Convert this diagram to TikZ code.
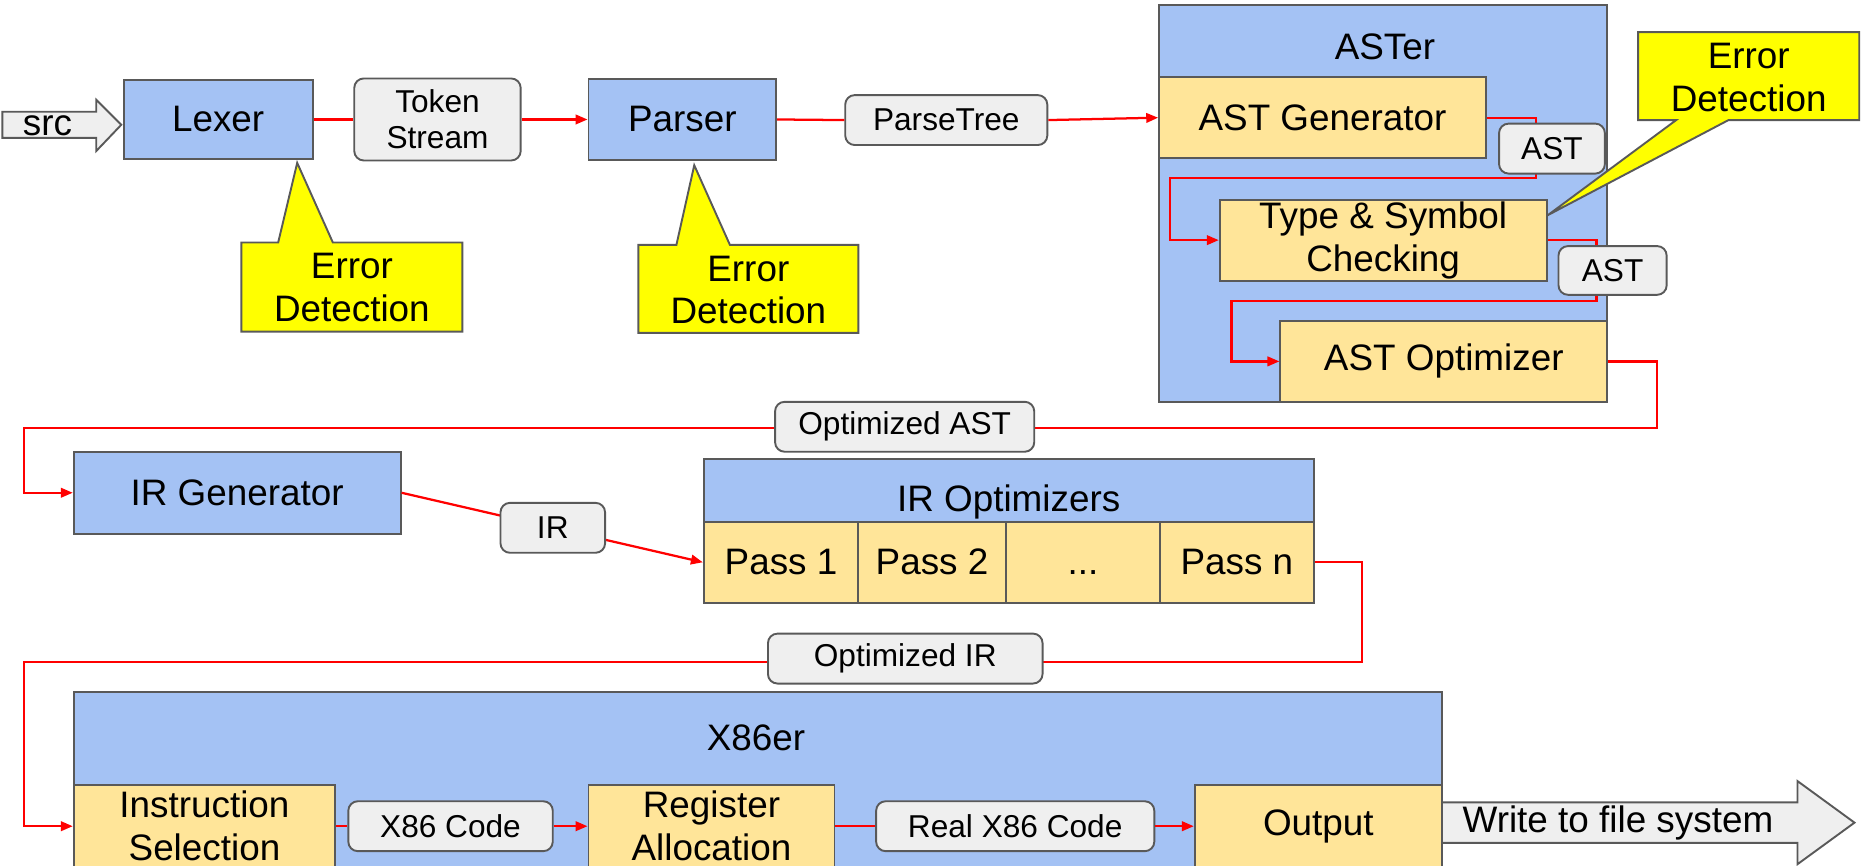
\documentclass[tikz,border=0pt]{standalone}
\usepackage{fontspec}
\setmainfont{Liberation Sans}
\usetikzlibrary{arrows.meta}
\definecolor{boxblue}{HTML}{A4C2F4}
\definecolor{boxtan}{HTML}{FFE599}
\definecolor{chip}{HTML}{EFEFEF}
\definecolor{edge}{HTML}{595959}
\definecolor{note}{HTML}{FFFF00}
\definecolor{wire}{HTML}{FF0000}
\tikzset{
  big/.style={font=\fontsize{15.5}{18}\selectfont},
  small/.style={font=\fontsize{13.3}{15}\selectfont},
  wh/.style 2 args={minimum width=#1*0.5pt, minimum height=#2*0.5pt},
  stage/.style={draw=edge, line width=0.8pt, fill=boxblue, inner sep=0pt, align=center, big},
  part/.style={draw=edge, line width=0.8pt, fill=boxtan, inner sep=0pt, align=center, big},
  tag/.style={draw=edge, line width=0.8pt, fill=chip, rounded corners=4pt, inner sep=0pt, align=center, small},
  callout/.style={draw=edge, line width=0.8pt, fill=note},
  bigarrow/.style={draw=edge, line width=0.8pt, fill=chip},
  caption/.style={inner sep=0pt, align=center, big},
  flow/.style={draw=wire, line width=0.95pt},
  feed/.style={flow, -{Triangle[length=5pt,width=4pt]}},
}
\begin{document}
\begin{tikzpicture}[x=0.5pt,y=-0.5pt]
\useasboundingbox (0,0) rectangle (1568,728);
\clip (0,0) rectangle (1568,728);

% ---------- front end ----------
\draw[bigarrow] (2,94) -- (81,94) -- (81,84) -- (102,105) -- (81,127) -- (81,116) -- (2,116) -- cycle;
\node[caption] (src) at (40,106) {src};

\node[stage, wh={159}{67}] (lexer) at (183.5,100.5) {Lexer};
\node[tag, wh={140}{69}] (token) at (368,100.5) {Token\\Stream};
\node[stage, wh={158}{68}] (parser) at (574,100.5) {Parser};
\node[tag, wh={170}{42}] (ptree) at (796,101) {ParseTree};

% ---------- ASTer ----------
\node[stage, wh={377}{334}] (aster) at (1163.5,171) {};
\node[caption, anchor=base] (astertitle) at (1165,50) {ASTer};
\node[part, wh={275}{68}] (astgen) at (1112.5,99) {AST Generator};
\node[part, wh={275}{68}] (typesym) at (1163.5,202) {Type \& Symbol\\Checking};
\node[part, wh={275}{68}] (astopt) at (1214.5,304) {AST Optimizer};

% ---------- IR stage ----------
\node[stage, wh={275}{69}] (irgen) at (199.5,414.5) {IR Generator};
\node[stage, wh={513}{53}] (iropt) at (848.5,412.5) {};
\node[caption, anchor=base] (iropttitle) at (848.5,430) {IR Optimizers};
\node[part, wh={130}{68}] (pass1) at (657,473) {Pass 1};
\node[part, wh={124}{68}] (pass2) at (784,473) {Pass 2};
\node[part, wh={130}{68}] (passdots) at (911,473) {\vphantom{Pass}...};
\node[part, wh={129}{68}] (passn) at (1040.5,473) {Pass n};

% ---------- X86er ----------
\node[stage, wh={1151}{158}] (x86er) at (637.5,661) {};
\node[caption] (x86title) at (636,621) {X86er};
\node[part, wh={220}{70}] (instr) at (172,695) {Instruction\\Selection};
\node[part, wh={207}{70}] (regalloc) at (598.5,695) {Register\\Allocation};
\node[part, wh={208}{70}] (output) at (1109,695) {Output};

% ---------- connectors ----------
\draw[flow] (lexer.east) -- (token.west);
\draw[feed] (token.east) -- (parser.west);
\draw[flow] (parser.east) -- (ptree.west);
\draw[feed] (ptree.east) -- (astgen.west);
\draw[feed] (astgen.east) -- (1292,99) -- (1292,150) -- (984,150) |- (typesym.west);
\draw[feed] (typesym.east) -- (1343,202) -- (1343,253) -- (1036,253) |- (astopt.west);
\draw[feed] (astopt.east) -- (1394,304) |- (20,360) |- (irgen.west);
\draw[feed] (irgen.east) -- (pass1.west);
\draw[feed] (passn.east) -- (1146,473) |- (20,557) |- (instr.west);

\node[tag, wh={89}{42}] (ast1) at (1305.5,125) {AST};
\node[tag, wh={91}{41}] (ast2) at (1356.5,227.5) {AST};
\node[tag, wh={218}{42}] (optast) at (761,359) {Optimized AST};
\node[tag, wh={88}{42}] (ir) at (465,444) {IR};
\node[tag, wh={231}{42}] (optir) at (761.5,554) {Optimized IR};
\node[tag, wh={172}{42}] (x86code) at (379,695) {X86 Code};
\node[tag, wh={234}{42}] (realx86) at (854,695) {Real X86 Code};

\draw[flow] (instr.east) -- (x86code.west);
\draw[feed] (x86code.east) -- (regalloc.west);
\draw[flow] (regalloc.east) -- (realx86.west);
\draw[feed] (realx86.east) -- (output.west);

\draw[bigarrow] (1213,675) -- (1512,675) -- (1512,657) -- (1560,692) -- (1512,727) -- (1512,709) -- (1213,709) -- cycle;
\node[caption] (write) at (1361,692) {Write to file system};

% ---------- error callouts ----------
\draw[callout] (203,204) -- (234,204) -- (250,137) -- (280,204) -- (389,204) -- (389,279) -- (203,279) -- cycle;
\node[caption] (lexerr) at (296,242) {Error\\Detection};
\draw[callout] (537,206) -- (569,206) -- (584,139) -- (614,206) -- (722,206) -- (722,280) -- (537,280) -- cycle;
\node[caption] (parerr) at (629.5,244) {Error\\Detection};
\draw[callout] (1378,27) -- (1564,27) -- (1564,101) -- (1454,101) -- (1302,181) -- (1410,101) -- (1378,101) -- cycle;
\node[caption] (typeerr) at (1471,65) {Error\\Detection};
\end{tikzpicture}
\end{document}
